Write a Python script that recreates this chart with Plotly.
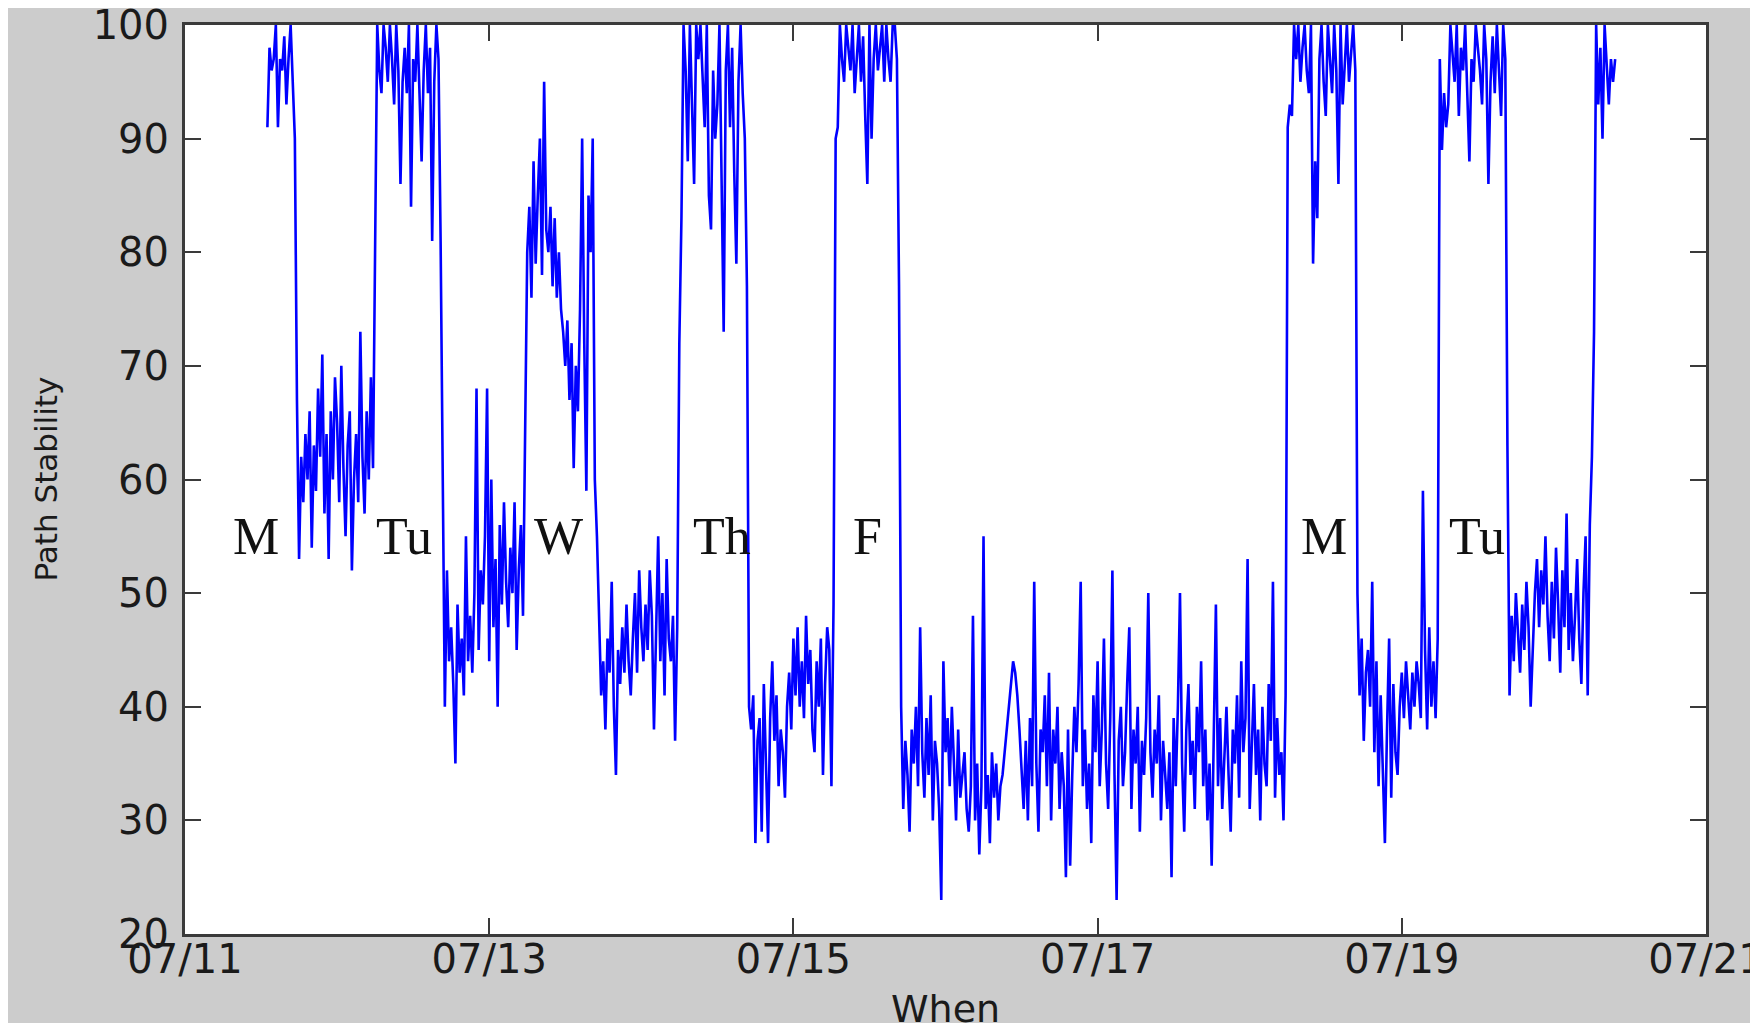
import pandas as pd
import plotly.graph_objects as go

# ---------------- data (20-minute samples) ----------------
START = "2011-07-11 13:00"
STEP = "20min"

mon11_day = [91, 98, 96, 97, 100, 91, 97, 96, 99, 93, 97, 100, 95, 90]
mon11_night = [67, 53, 62, 58, 64, 60, 66, 54, 63, 59, 68, 62, 71, 57, 64, 53, 66, 60, 69,
               65, 58, 70, 61, 55, 63, 66, 52, 60, 64, 58, 73, 62, 57, 66, 60, 69, 61]
tue12_day = [84, 100, 96, 94, 100, 98, 95, 100, 97, 93, 100, 96, 86, 95, 98, 94, 100, 84,
             97, 95, 100, 93, 88, 96, 100, 94, 98, 81, 95, 100, 97, 81]
tue12_night = [57, 40, 52, 44, 47, 42, 35, 49, 43, 46, 41, 55, 44, 48, 43, 50, 68, 45, 52, 49,
               55, 68, 44, 60, 47, 53, 40, 56, 49, 58, 51, 47, 54, 50, 58, 45, 52, 56, 48, 64]
wed13_day = [80, 84, 76, 88, 79, 85, 90, 78, 95, 82, 80, 84, 77, 83, 76, 80, 75, 73, 70, 74,
             67, 72, 61, 70, 66, 75, 90, 72, 59, 85, 80, 90, 60]
wed13_night = [55, 48, 41, 44, 38, 46, 43, 51, 40, 34, 45, 42, 47, 43, 49, 44, 41, 46, 50, 43,
               52, 47, 44, 49, 45, 52, 48, 38, 47, 55, 44, 50, 41, 53, 46, 44, 48, 37, 47]
thu14_day = [72, 83, 100, 96, 88, 100, 92, 86, 100, 97, 100, 95, 91, 100, 85, 82, 96, 90, 93,
             100, 88, 73, 96, 100, 91, 98, 87, 79, 95, 100, 94, 90, 77]
thu14_night = [40, 38, 41, 28, 37, 39, 29, 42, 36, 28, 39, 44, 37, 41, 33, 38, 36, 32, 40, 43,
               38, 46, 41, 47, 40, 44, 39, 48, 42, 45, 38, 36, 44, 40, 46, 34, 42, 47, 45, 33, 49]
fri15_day = [90, 91, 100, 97, 95, 100, 98, 96, 100, 94, 97, 100, 95, 99, 92, 86, 100, 90, 97,
             100, 96, 98, 100, 95, 100, 97, 95, 100, 100, 97, 77]
weekend = [40, 31, 37, 34, 29, 38, 35, 40, 33, 47, 36, 32, 39, 34, 41, 30, 37, 35,
           31, 23, 44, 36, 39, 33, 40, 35, 30, 38, 32, 34, 36, 31, 29, 33, 48, 30,
           35, 27, 33, 55, 31, 34, 28, 36, 32, 35, 30, 33, 34, 36, 38, 40, 42, 44,
           43, 41, 38, 34, 31, 37, 30, 39, 33, 51, 35, 29, 38, 36, 41, 33, 43, 30,
           38, 35, 40, 31, 36, 33, 25, 38, 26, 34, 40, 36, 42, 51, 33, 38, 31, 35,
           28, 41, 36, 44, 33, 38, 46, 35, 31, 39, 52, 34, 23, 37, 40, 33, 36, 42,
           47, 31, 38, 35, 40, 29, 37, 34, 39, 50, 36, 32, 38, 35, 41, 30, 37, 34,
           31, 36, 25, 39, 33, 40, 50, 35, 29, 38, 42, 34, 37, 31, 40, 36, 44, 33,
           38, 30, 35, 26, 37, 49, 33, 39, 31, 36, 40, 34, 29, 38, 35, 41, 32, 44,
           36, 39, 53, 31, 37, 42, 34, 38, 30, 40, 35, 33, 42, 37, 51, 32, 39, 34, 36, 30, 41]
mon18_day = [91, 93, 92, 100, 97, 100, 95, 98, 100, 96, 94, 100, 79, 88, 83, 97, 100, 95, 92,
             100, 97, 94, 100, 96, 86, 100, 93, 97, 100, 95, 98, 100, 96]
mon18_night = [50, 41, 46, 37, 43, 45, 40, 51, 36, 44, 33, 41, 35, 28, 38, 46, 32, 42, 36, 34,
               40, 43, 39, 44, 41, 38, 43, 40, 44, 42, 39, 59, 45, 38, 47, 40, 44, 39, 46]
tue19_day = [97, 89, 94, 91, 93, 100, 97, 95, 100, 92, 98, 96, 100, 94, 88, 97, 95, 100, 98,
             96, 93, 100, 97, 86, 95, 99, 94, 100, 96, 92, 100, 97, 63]
tue19_night = [41, 48, 44, 50, 46, 43, 49, 45, 51, 47, 40, 46, 50, 53, 47, 52, 49, 55, 48, 44,
               51, 46, 54, 49, 43, 52, 47, 57, 45, 50, 44, 48, 53, 46, 42, 50, 55, 41, 56, 62]
wed20_day = [73, 100, 93, 98, 90, 100, 96, 93, 97, 95, 97]

segments = [mon11_day, mon11_night, tue12_day, tue12_night, wed13_day, wed13_night,
            thu14_day, thu14_night, fri15_day, weekend, mon18_day, mon18_night,
            tue19_day, tue19_night, wed20_day]
values = [v for seg in segments for v in seg]
times = pd.date_range(START, periods=len(values), freq=STEP)

day_labels = ["M", "Tu", "W", "Th", "F", "M", "Tu"]
day_label_x = ["2011-07-11 11:12", "2011-07-12 10:38", "2011-07-13 10:57", "2011-07-14 12:43",
               "2011-07-15 11:46", "2011-07-18 11:46", "2011-07-19 11:51"]
day_label_y = 55.0

x_tick_dates = ["2011-07-11", "2011-07-13", "2011-07-15", "2011-07-17", "2011-07-19", "2011-07-21"]
x_tick_labels = ["07/11", "07/13", "07/15", "07/17", "07/19", "07/21"]
y_ticks = [20, 30, 40, 50, 60, 70, 80, 90, 100]

x_title = "When"
y_title = "Path Stability"

# ---------------- figure ----------------
AXIS_COLOR = "#3a3a3a"
GRAY = "#cccccc"
TEXT = "#1a1a1a"

W, H = 1758, 1023
PL, PR, PT, PB = 177, 60, 17, 97
pw, ph = W - PL - PR, H - PT - PB

fig = go.Figure()
fig.add_trace(go.Scatter(
    x=times, y=values, mode="lines",
    line=dict(color="#0000ff", width=2.6),
    showlegend=False, hoverinfo="x+y",
))

for lab, lx in zip(day_labels, day_label_x):
    fig.add_annotation(x=lx, y=day_label_y, text=lab, showarrow=False,
                       xanchor="center", yanchor="middle",
                       font=dict(family="Liberation Serif", size=52, color="#111111"))

# axis titles placed as paper annotations
fig.add_annotation(xref="paper", yref="paper", x=(37 - PL) / pw, y=0.5,
                   text=y_title, textangle=-90, showarrow=False,
                   xanchor="center", yanchor="middle",
                   font=dict(family="DejaVu Sans", size=31, color=TEXT))
fig.add_annotation(xref="paper", yref="paper", x=0.5, y=(H - PB - 1001) / ph,
                   text=x_title, showarrow=False,
                   xanchor="center", yanchor="middle",
                   font=dict(family="DejaVu Sans", size=38, color=TEXT))

tick_font = dict(family="DejaVu Sans", size=40, color=TEXT)

fig.update_xaxes(
    type="date",
    range=["2011-07-11", "2011-07-21"],
    tickmode="array", tickvals=x_tick_dates, ticktext=x_tick_labels,
    ticks="inside", ticklen=16, tickwidth=2, tickcolor=AXIS_COLOR,
    showline=True, linecolor=AXIS_COLOR, linewidth=3, mirror="ticks",
    showgrid=False, zeroline=False, automargin=False,
    tickfont=tick_font, ticklabelstandoff=-12, ticklabeloverflow="allow",
)
fig.update_yaxes(
    range=[20, 100],
    tickmode="array", tickvals=y_ticks,
    ticks="inside", ticklen=16, tickwidth=2, tickcolor=AXIS_COLOR,
    showline=True, linecolor=AXIS_COLOR, linewidth=3, mirror="ticks",
    showgrid=False, zeroline=False, automargin=False,
    tickfont=tick_font, ticklabelstandoff=5, ticklabeloverflow="allow",
)

fig.update_layout(
    width=W, height=H,
    margin=dict(l=PL, r=PR, t=PT, b=PB, pad=0, autoexpand=False),
    paper_bgcolor=GRAY, plot_bgcolor="white",
    font=dict(family="DejaVu Sans", color=TEXT),
    showlegend=False,
)

fig.write_html("out.html")
